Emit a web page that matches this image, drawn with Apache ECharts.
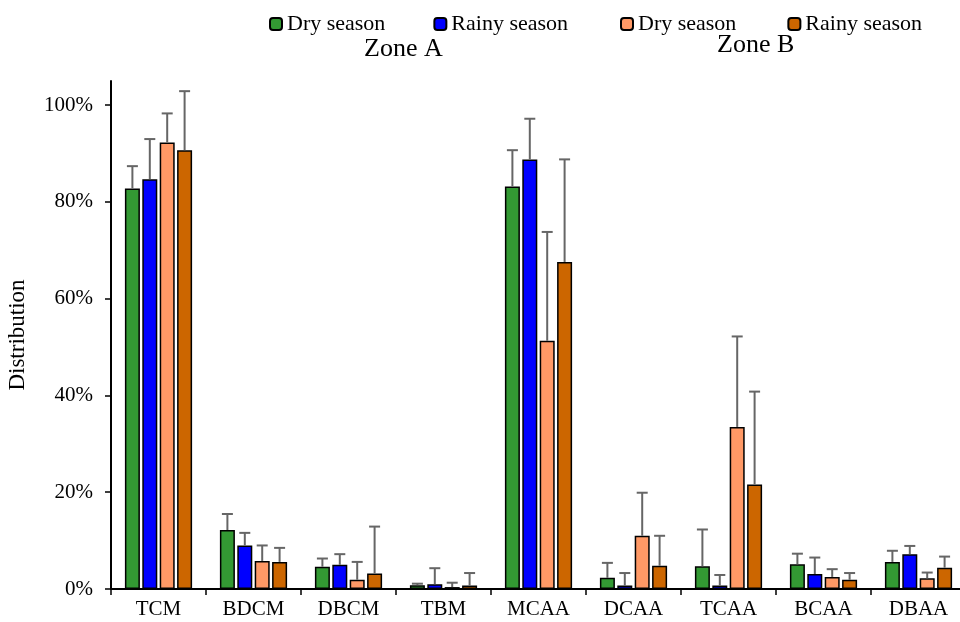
<!DOCTYPE html>
<html>
<head>
<meta charset="utf-8">
<script src="https://cdn.jsdelivr.net/npm/echarts@6/dist/echarts.min.js"></script>
<style>
  html, body { margin: 0; padding: 0; background: #fff; }
  #chart { width: 960px; height: 622px; }
</style>
</head>
<body>
<div id="chart"></div>
<script>
const categories = ['TCM', 'BDCM', 'DBCM', 'TBM', 'MCAA', 'DCAA', 'TCAA', 'BCAA', 'DBAA'];
const yTicks = [0, 20, 40, 60, 80, 100];

// mean distribution (%) and upper error (%)
const zoneADry = [82.8, 12.2, 4.6, 0.8, 83.2, 2.3, 4.7, 5.1, 5.6];
const zoneADryErr = [4.6, 3.3, 1.7, 0.3, 7.5, 3.1, 7.6, 2.2, 2.3];
const zoneARainy = [84.7, 9.0, 5.0, 1.0, 88.8, 0.7, 0.7, 3.1, 7.2];
const zoneARainyErr = [8.3, 2.6, 2.2, 3.3, 8.4, 2.6, 2.2, 3.4, 1.7];
const zoneBDry = [92.3, 5.8, 1.9, 0.4, 51.3, 11.0, 33.5, 2.5, 2.2];
const zoneBDryErr = [6.0, 3.2, 3.7, 0.9, 22.5, 8.9, 18.7, 1.6, 1.2];
const zoneBRainy = [90.7, 5.6, 3.2, 0.7, 67.6, 4.8, 21.6, 1.9, 4.4];
const zoneBRainyErr = [12.2, 2.9, 9.7, 2.6, 21.2, 6.2, 19.2, 1.4, 2.3];

const BAR_W = 15;
const BAR_GAP = 0.16;
const serif = 'Liberation Serif';

const groups = [
    { name: 'Zone A Dry season', color: '#339933', data: zoneADry, err: zoneADryErr },
    { name: 'Zone A Rainy season', color: '#0000ff', data: zoneARainy, err: zoneARainyErr },
    { name: 'Zone B Dry season', color: '#ff9966', data: zoneBDry, err: zoneBDryErr },
    { name: 'Zone B Rainy season', color: '#cc6600', data: zoneBRainy, err: zoneBRainyErr }
];

const step = BAR_W * (1 + BAR_GAP);
const total = BAR_W * 4 + BAR_W * BAR_GAP * 3;

let series = [];
groups.forEach(function (g, i) {
    series.push({
        name: g.name,
        type: 'bar',
        barWidth: BAR_W,
        barGap: (BAR_GAP * 100) + '%',
        itemStyle: { color: g.color, borderColor: '#000', borderWidth: 1.5 },
        data: g.data
    });
});
groups.forEach(function (g, i) {
    const offset = -total / 2 + BAR_W / 2 + i * step;
    series.push({
        type: 'custom',
        silent: true,
        z: 3,
        data: g.data.map(function (v, k) { return [k, v, g.err[k]]; }),
        renderItem: function (params, api) {
            const x = api.coord([api.value(0), 0])[0] + offset;
            const yBase = api.coord([api.value(0), api.value(1)])[1];
            const yTop = api.coord([api.value(0), api.value(1) + api.value(2)])[1];
            const st = { stroke: '#666', lineWidth: 2 };
            return {
                type: 'group',
                children: [
                    { type: 'line', shape: { x1: x, y1: yBase, x2: x, y2: yTop }, style: st },
                    { type: 'line', shape: { x1: x - 5.5, y1: yTop, x2: x + 5.5, y2: yTop }, style: st }
                ]
            };
        }
    });
});

const chart = echarts.init(document.getElementById('chart'), null, { renderer: 'canvas' });
const legendText = { fontFamily: serif, fontSize: 22, color: '#000' };
const legendFmt = function (name) { return name.replace(/^Zone [AB] /, ''); };

chart.setOption({
    backgroundColor: '#fff',
    animation: false,
    textStyle: { fontFamily: serif },
    legend: [
        {
            data: ['Zone A Dry season', 'Zone A Rainy season'],
            left: 269, top: 13, itemWidth: 12, itemHeight: 12, itemGap: 48,
            padding: 0,
            textStyle: legendText, formatter: legendFmt, selectedMode: false
        },
        {
            data: ['Zone B Dry season', 'Zone B Rainy season'],
            left: 620, top: 13, itemWidth: 12, itemHeight: 12, itemGap: 51,
            padding: 0,
            textStyle: legendText, formatter: legendFmt, selectedMode: false
        }
    ],
    graphic: [
        { type: 'text', left: 364, top: 36, style: { text: 'Zone A', font: '26px "Liberation Serif"', fill: '#000' } },
        { type: 'text', left: 717, top: 32, style: { text: 'Zone B', font: '26px "Liberation Serif"', fill: '#000' } }
    ],
    grid: { left: 111, width: 855, top: 81, bottom: 33, outerBoundsMode: 'none' },
    xAxis: {
        type: 'category',
        data: categories,
        axisLine: { lineStyle: { color: '#000', width: 2 } },
        axisTick: { show: true, length: 6, lineStyle: { color: '#000', width: 1.5 } },
        axisLabel: { fontFamily: serif, fontSize: 21, color: '#000', margin: 10 }
    },
    yAxis: {
        type: 'value',
        min: 0,
        max: 105,
        interval: 20,
        name: 'Distribution',
        nameLocation: 'middle',
        nameGap: 82,
        nameTextStyle: { fontFamily: serif, fontSize: 23, color: '#000' },
        splitLine: { show: false },
        axisLine: { show: true, lineStyle: { color: '#000', width: 2 } },
        axisTick: { show: true, length: 6, customValues: yTicks, lineStyle: { color: '#000', width: 1.5 } },
        axisLabel: {
            customValues: yTicks,
            formatter: '{value}%',
            fontFamily: serif, fontSize: 21, color: '#000', margin: 18
        }
    },
    series: series
});
</script>
</body>
</html>
